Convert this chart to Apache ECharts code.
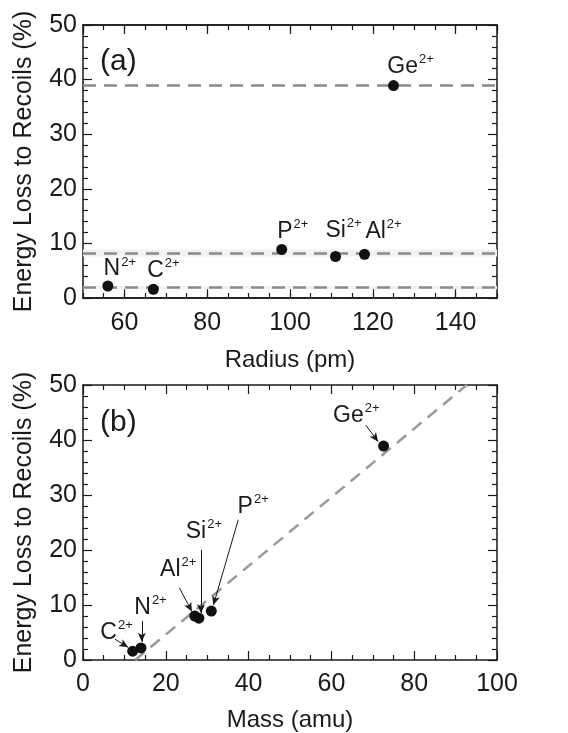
<!DOCTYPE html>
<html>
<head>
<meta charset="utf-8">
<script src="https://cdn.jsdelivr.net/npm/echarts@6/dist/echarts.min.js"></script>
<style>
  html, body { margin: 0; padding: 0; background: #fff; }
  #chart { width: 568px; height: 733px; }
</style>
</head>
<body>
<div id="chart"></div>
<script>
  // ions
  const ions = ['N', 'C', 'P', 'Si', 'Al', 'Ge']
  const radius = [56, 67, 98, 111, 118, 125]        // pm
  const mass = [14, 12, 31, 28, 27, 72.6]           // amu
  const energyLoss = [2.2, 1.6, 8.9, 7.6, 8.0, 38.9] // %

  // panel (a): group means and min-max bands
  const groupMean = [38.9, 8.2, 1.9]
  const groupBand = [[7.6, 8.9], [1.6, 2.2]]

  // panel (b): linear fit end points [mass, energy]
  const fitLine = [[12.6, 0], [92.7, 50]]

  // panel (b) annotations: text anchor and arrow (data coords)
  const annotText = [[41.1, 27.9], [29.2, 23.3], [23.0, 16.5], [16.3, 9.6], [8.1, 5.0], [66.0, 44.5]]
  const annotIon = ['P', 'Si', 'Al', 'N', 'C', 'Ge']
  const arrowFrom = [[37.5, 25.5], [28.5, 20.0], [23.3, 13.1], [14.2, 7.1], [7.7, 3.8], [68.3, 42.7]]
  const arrowTo = [[31.5, 10.0], [28.5, 8.5], [26.3, 8.8], [14.2, 3.3], [10.9, 2.3], [71.3, 39.7]]

  // tick labels
  const yTicks = [0, 10, 20, 30, 40, 50]

  const chart = echarts.init(document.getElementById('chart'))
  const font = 'Liberation Sans, Arial, sans-serif'
  const ink = '#1a1a1a'

  const ionLabelStyle = {
    show: true, position: 'inside',
    fontSize: 23, lineHeight: 27, color: ink, fontFamily: font,
    textBorderWidth: 0,
    rich: {
      s: { fontSize: 13, lineHeight: 27, color: ink, fontFamily: font, verticalAlign: 'top', padding: [0, 0, 0, 1] }
    }
  }
  const ionLabel = n => n + '{s|2+}'

  // label offsets (px) for panel (a)
  const offsetA = [[12, -17], [10, -19], [11, -18], [8, -26], [19, -23], [17, -19]]

  const tickStyle = { color: ink, width: 1.2 }
  function xAxisCommon(grid, pos, min, max, labels, extra) {
    return Object.assign({
      type: 'value', gridIndex: grid, position: pos, min: min, max: max,
      axisLine: { show: true, onZero: false, lineStyle: { color: ink, width: 1.5 } },
      axisTick: { show: true, inside: true, length: 9, lineStyle: tickStyle },
      splitLine: { show: false },
      axisLabel: { show: labels, color: ink, fontSize: 25, fontFamily: font, margin: 13, showMinLabel: false, showMaxLabel: false }
    }, extra || {})
  }
  function yAxisCommon(grid, pos, labels, extra) {
    return Object.assign({
      type: 'value', gridIndex: grid, position: pos, min: 0, max: 50, interval: 10,
      axisLine: { show: true, onZero: false, lineStyle: { color: ink, width: 1.5 } },
      axisTick: { show: true, inside: true, length: 9, lineStyle: tickStyle },
      minorTick: { show: true, splitNumber: 5, length: 5, lineStyle: tickStyle },
      splitLine: { show: false }, minorSplitLine: { show: false },
      axisLabel: {
        show: labels, color: ink, fontSize: 25, fontFamily: font, margin: 6,
        formatter: v => yTicks.indexOf(v) >= 0 ? v : ''
      }
    }, extra || {})
  }
  const yName = {
    name: 'Energy Loss to Recoils (%)', nameLocation: 'middle', nameGap: 46,
    nameTextStyle: { color: ink, fontSize: 25, fontFamily: font }
  }
  const minorX = { show: true, inside: true, length: 5, lineStyle: tickStyle }

  const option = {
    animation: false,
    backgroundColor: '#fff',
    title: [
      { text: '(a)', left: 95, top: 42, textStyle: { fontSize: 30, fontWeight: 'normal', color: ink, fontFamily: font } },
      { text: '(b)', left: 95, top: 403, textStyle: { fontSize: 30, fontWeight: 'normal', color: ink, fontFamily: font } }
    ],
    grid: [
      { left: 83, top: 25, width: 414, height: 273 },
      { left: 83, top: 385, width: 414, height: 275 }
    ],
    xAxis: [
      // panel (a): major ticks + labels
      xAxisCommon(0, 'bottom', 50, 150, true, {
        name: 'Radius (pm)', nameLocation: 'middle', nameGap: 50,
        nameTextStyle: { color: ink, fontSize: 24, fontFamily: font }
      }),
      // panel (a): minor ticks
      xAxisCommon(0, 'bottom', 50, 150, false, { interval: 5, axisTick: minorX }),
      xAxisCommon(0, 'top', 50, 150, false),
      xAxisCommon(0, 'top', 50, 150, false, { interval: 5, axisTick: minorX }),
      // panel (b)
      xAxisCommon(1, 'bottom', 0, 100, true, {
        interval: 20,
        minorTick: { show: true, splitNumber: 4, length: 5, lineStyle: tickStyle },
        axisLabel: { show: true, color: ink, fontSize: 25, fontFamily: font, margin: 12 },
        name: 'Mass (amu)', nameLocation: 'middle', nameGap: 48,
        nameTextStyle: { color: ink, fontSize: 24, fontFamily: font }
      }),
      xAxisCommon(1, 'top', 0, 100, false, {
        interval: 20,
        minorTick: { show: true, splitNumber: 4, length: 5, lineStyle: tickStyle }
      })
    ],
    yAxis: [
      yAxisCommon(0, 'left', true, yName),
      yAxisCommon(0, 'right', false),
      yAxisCommon(1, 'left', true, yName),
      yAxisCommon(1, 'right', false)
    ],
    series: [
      // panel (a) bands + mean lines
      {
        type: 'scatter', xAxisIndex: 0, yAxisIndex: 0, data: [], z: 1,
        markArea: {
          silent: true,
          itemStyle: { color: '#f1f1f1' },
          data: groupBand.map(b => [{ yAxis: b[0] }, { yAxis: b[1] }])
        },
        markLine: {
          silent: true, symbol: 'none',
          label: { show: false },
          lineStyle: { color: '#8a8a8a', width: 2.5, type: [13, 8] },
          data: groupMean.map(v => ({ yAxis: v }))
        }
      },
      // panel (a) points
      {
        type: 'scatter', xAxisIndex: 0, yAxisIndex: 0, z: 5,
        symbolSize: 11,
        itemStyle: { color: '#111', opacity: 1 },
        data: ions.map((n, i) => ({
          value: [radius[i], energyLoss[i]],
          label: Object.assign({}, ionLabelStyle, { offset: offsetA[i], formatter: ionLabel(n) })
        }))
      },
      // panel (b) fit line
      {
        type: 'line', xAxisIndex: 4, yAxisIndex: 2, data: fitLine, z: 2,
        showSymbol: false, symbol: 'none',
        lineStyle: { color: '#9a9a9a', width: 2.5, type: [12, 8] }
      },
      // panel (b) points
      {
        type: 'scatter', xAxisIndex: 4, yAxisIndex: 2, z: 5,
        symbolSize: 11,
        itemStyle: { color: '#111', opacity: 1 },
        data: ions.map((n, i) => [mass[i], energyLoss[i]])
      },
      // panel (b) annotation text + arrows
      {
        type: 'scatter', xAxisIndex: 4, yAxisIndex: 2, z: 6,
        symbolSize: 1, silent: true,
        itemStyle: { color: 'rgba(0,0,0,0)', opacity: 1 },
        data: annotIon.map((n, i) => ({
          value: annotText[i],
          label: Object.assign({}, ionLabelStyle, { formatter: ionLabel(n) })
        })),
        markLine: {
          silent: true,
          symbol: ['none', 'arrow'], symbolSize: [6, 9],
          label: { show: false },
          lineStyle: { color: ink, width: 1, type: 'solid', opacity: 1 },
          data: arrowFrom.map((p, i) => [{ coord: p }, { coord: arrowTo[i] }])
        }
      }
    ]
  }

  chart.setOption(option)
</script>
</body>
</html>
